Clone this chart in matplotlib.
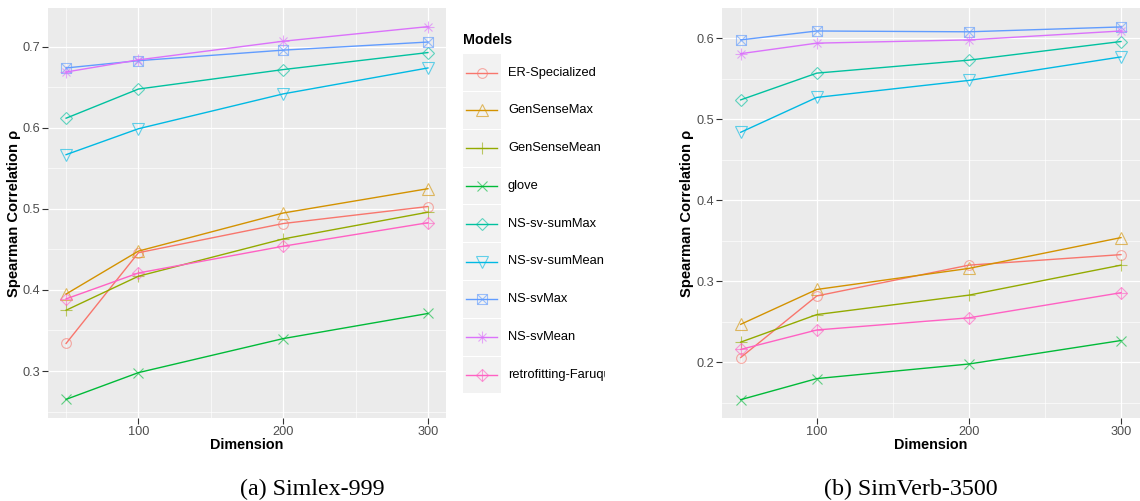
import numpy as np
import matplotlib
matplotlib.use("Agg")
import matplotlib.pyplot as plt
from matplotlib.patches import Rectangle

plt.rcParams['font.family'] = ['Liberation Sans', 'DejaVu Sans']

# x values (embedding dimension)
dims = [50, 100, 200, 300]

models = ["ER-Specialized", "GenSenseMax", "GenSenseMean", "glove", "NS-sv-sumMax",
          "NS-sv-sumMean", "NS-svMax", "NS-svMean", "retrofitting-Faruqui"]

# (a) Simlex-999
er_s = [0.334, 0.446, 0.482, 0.503]
gsmax_s = [0.395, 0.448, 0.495, 0.525]
gsmean_s = [0.375, 0.417, 0.463, 0.496]
glove_s = [0.265, 0.298, 0.340, 0.371]
summax_s = [0.612, 0.648, 0.672, 0.693]
summean_s = [0.567, 0.599, 0.642, 0.674]
svmax_s = [0.674, 0.683, 0.696, 0.706]
svmean_s = [0.669, 0.684, 0.707, 0.725]
retro_s = [0.389, 0.421, 0.454, 0.483]

# (b) SimVerb-3500
er_v = [0.206, 0.282, 0.320, 0.333]
gsmax_v = [0.247, 0.290, 0.316, 0.354]
gsmean_v = [0.225, 0.259, 0.283, 0.320]
glove_v = [0.154, 0.180, 0.198, 0.227]
summax_v = [0.524, 0.557, 0.573, 0.596]
summean_v = [0.484, 0.527, 0.548, 0.577]
svmax_v = [0.598, 0.609, 0.608, 0.614]
svmean_v = [0.581, 0.594, 0.598, 0.609]
retro_v = [0.216, 0.240, 0.255, 0.286]

simlex = [er_s, gsmax_s, gsmean_s, glove_s, summax_s, summean_s, svmax_s, svmean_s, retro_s]
simverb = [er_v, gsmax_v, gsmean_v, glove_v, summax_v, summean_v, svmax_v, svmean_v, retro_v]

colors = ['#F8766D', '#D39200', '#93AA00', '#00BA38', '#00C19F',
          '#00B9E3', '#619CFF', '#DB72FB', '#FF61C3']

# ggplot shapes 1..9 as lists of (marker, size)
shapes = [
    [('o', 7.0)],
    [('^', 8.5)],
    [('+', 9.0)],
    [('x', 7.0)],
    [('D', 6.0)],
    [('v', 8.5)],
    [('s', 6.5), ('x', 6.5)],
    [('+', 9.0), ('x', 6.4)],
    [('D', 6.0), ('+', 8.5)],
]

W, H = 1140, 501
fig = plt.figure(figsize=(W / 100, H / 100), dpi=100)


def px_axes(x0, y0, x1, y1):
    return fig.add_axes([x0 / W, 1 - y1 / H, (x1 - x0) / W, (y1 - y0) / H])


def draw_marks(ax, xs, ys, i):
    for m, s in shapes[i]:
        ax.plot(xs, ys, linestyle='none', marker=m, markersize=s,
                markerfacecolor='none', markeredgecolor=colors[i],
                markeredgewidth=0.8, alpha=0.6)


def panel(ax, data, ymaj, ymin_):
    ax.set_facecolor('#EBEBEB')
    for s in ax.spines.values():
        s.set_visible(False)
    for i, ys in enumerate(data):
        ax.plot(dims, ys, color=colors[i], lw=1.0, zorder=3)
        draw_marks(ax, dims, ys, i)
    lo = min(min(d) for d in data)
    hi = max(max(d) for d in data)
    pad = (hi - lo) * 0.05
    ax.set_ylim(lo - pad, hi + pad)
    ax.set_xlim(50 - 12.5, 300 + 12.5)
    ax.set_xticks([100, 200, 300])
    ax.set_xticks([50, 150, 250], minor=True)
    ax.set_yticks(ymaj)
    ax.set_yticks(ymin_, minor=True)
    ax.grid(True, which='major', color='white', lw=0.9)
    ax.grid(True, which='minor', color='white', lw=0.45)
    ax.set_axisbelow(True)
    ax.tick_params(which='major', length=4, width=0.8, color='#333333',
                   labelcolor='#4D4D4D', labelsize=9.2, pad=1.5)
    ax.tick_params(which='minor', length=0)


ax1 = px_axes(48, 8, 446, 418)
panel(ax1, simlex, [0.3, 0.4, 0.5, 0.6, 0.7], [0.25, 0.35, 0.45, 0.55, 0.65])
ax2 = px_axes(721.7, 8.3, 1140, 418.3)
panel(ax2, simverb, [0.2, 0.3, 0.4, 0.5, 0.6], [0.15, 0.25, 0.35, 0.45, 0.55])

# axis titles
fig.text(14 / W, 1 - 213.5 / H, 'Spearman Correlation ρ', rotation=90, ha='center',
         va='center', fontsize=10.6, fontweight='bold')
fig.text(687 / W, 1 - 213.5 / H, 'Spearman Correlation ρ', rotation=90, ha='center',
         va='center', fontsize=10.6, fontweight='bold')
fig.text(247 / W, 1 - 445 / H, 'Dimension', ha='center', va='center',
         fontsize=10.4, fontweight='bold')
fig.text(931 / W, 1 - 445 / H, 'Dimension', ha='center', va='center',
         fontsize=10.4, fontweight='bold')

# legend, clipped at the edge of the left sub-figure
lg = px_axes(455, 0, 605, 501)
lg.set_xlim(455, 605)
lg.set_ylim(501, 0)
lg.axis('off')
lg.text(463, 40, 'Models', ha='left', va='center', fontsize=10.3, fontweight='bold')
step = 37.8
for i, name in enumerate(models):
    yc = 72.5 + step * i
    lg.add_patch(Rectangle((463, yc - 18.4), 37.6, 36.8, facecolor='#F2F2F2',
                           edgecolor='none'))
    lg.plot([466.5, 497.5], [yc, yc], color=colors[i], lw=1.0)
    draw_marks(lg, [482], [yc], i)
    t = lg.text(508, yc, name, ha='left', va='center', fontsize=9.3)
    t.set_clip_on(True)

# sub-figure captions
fig.text(312 / W, 1 - 489 / H, '(a) Simlex-999', ha='center', va='center',
         fontsize=17.3, family='Liberation Serif')
fig.text(911 / W, 1 - 489 / H, '(b) SimVerb-3500', ha='center', va='center',
         fontsize=17.3, family='Liberation Serif')

fig.savefig('out.png', dpi=100, facecolor='white')
